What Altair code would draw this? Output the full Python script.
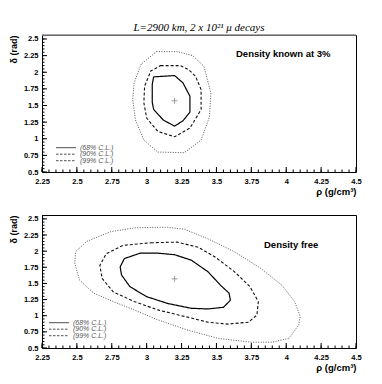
import altair as alt
import pandas as pd

# ---------------- data ----------------
LEVELS = ["68%", "90%", "99%"]
LEGEND_LABELS = ["(68% C.L.)", "(90% C.L.)", "(99% C.L.)"]
PANEL_LABELS = ["Density known at 3%", "Density free"]
MAIN_TITLE = "L=2900 km, 2 x 10\u00b2\u00b9 \u03bc decays"
X_TITLE = "\u03c1 (g/cm\u00b3)"
Y_TITLE = "\u03b4 (rad)"

BEST_RHO = [3.2]
BEST_DELTA = [1.5708]

X_MAJOR = [2.25, 2.5, 2.75, 3.0, 3.25, 3.5, 3.75, 4.0, 4.25, 4.5]
Y_MAJOR = [0.5, 0.75, 1.0, 1.25, 1.5, 1.75, 2.0, 2.25, 2.5]

# Density known at 3%
rho68_k = [3.05, 3.20, 3.26, 3.31, 3.31, 3.26, 3.20, 3.12, 3.05, 3.04, 3.04, 3.05]
dl68_k = [1.93, 1.95, 1.84, 1.64, 1.40, 1.27, 1.19, 1.28, 1.44, 1.55, 1.82, 1.93]
rho90_k = [3.10, 3.24, 3.30, 3.35, 3.39, 3.39, 3.31, 3.20, 3.08, 3.00, 2.98, 2.985, 3.03, 3.10]
dl90_k = [2.10, 2.10, 2.04, 1.94, 1.74, 1.44, 1.16, 1.03, 1.11, 1.31, 1.54, 1.79, 2.02, 2.10]
rho99_k = [3.07, 3.22, 3.33, 3.41, 3.46, 3.45, 3.39, 3.27, 3.08, 2.98, 2.92, 2.90, 2.91, 2.96, 3.07]
dl99_k = [2.31, 2.31, 2.25, 2.09, 1.69, 1.33, 0.98, 0.79, 0.80, 0.98, 1.28, 1.59, 1.84, 2.12, 2.31]

# Density free
rho68_f = [2.84, 2.955, 3.075, 3.20, 3.32, 3.44, 3.53, 3.59, 3.60, 3.55, 3.44, 3.32, 3.15, 3.00, 2.88, 2.82, 2.81, 2.84]
dl68_f = [1.885, 1.97, 1.97, 1.945, 1.86, 1.68, 1.47, 1.35, 1.24, 1.13, 1.105, 1.115, 1.19, 1.295, 1.45, 1.63, 1.755, 1.885]
rho90_f = [3.03, 3.22, 3.37, 3.49, 3.63, 3.74, 3.80, 3.79, 3.73, 3.58, 3.44, 3.27, 3.08, 2.91, 2.76, 2.68, 2.665, 2.71, 2.83, 3.03]
dl90_f = [2.13, 2.14, 2.06, 1.91, 1.68, 1.45, 1.22, 1.01, 0.90, 0.87, 0.90, 0.99, 1.09, 1.22, 1.37, 1.58, 1.78, 1.96, 2.09, 2.13]
rho99_f = [3.075, 3.15, 3.27, 3.44, 3.63, 3.82, 3.97, 4.06, 4.10, 4.09, 4.02, 3.90, 3.75, 3.51, 3.29, 3.075, 2.91, 2.76, 2.62, 2.52, 2.485, 2.49, 2.57, 2.74, 2.91, 3.075]
dl99_f = [2.37, 2.37, 2.34, 2.19, 1.99, 1.73, 1.47, 1.22, 0.99, 0.86, 0.65, 0.59, 0.59, 0.65, 0.78, 0.94, 1.09, 1.22, 1.35, 1.55, 1.81, 1.99, 2.15, 2.30, 2.36, 2.37]

# ---------------- styles ----------------
W = 314
H_TOP = 137
H_BOT = 133
FONT = "Liberation Sans"
DASHES = [[1, 0], [3, 2], [1, 1.5]]
COLORS = ["#000000", "#111111", "#555555"]
WIDTHS = [1.2, 1.0, 1.0]

x_minor = [round(2.25 + 0.05 * i, 2) for i in range(46)]
y_minor = [round(0.5 + 0.05 * i, 2) for i in range(42)]

xs = alt.Scale(domain=[2.25, 4.5], nice=False, zero=False)
ys = alt.Scale(domain=[0.5, 2.56], nice=False, zero=False)

xaxis = alt.Axis(values=X_MAJOR, format=".2~f", ticks=False, tickSize=0, domain=False, grid=False,
                 labelFont=FONT, labelFontSize=7.5, labelFontWeight="bold", labelColor="black",
                 labelPadding=5, labelFlush=False, labelOverlap=False,
                 title=X_TITLE, titleAnchor="end", titleFont=FONT, titleFontSize=9.5,
                 titleFontWeight="bold", titleColor="black", titlePadding=2)
yaxis = alt.Axis(values=Y_MAJOR, format=".2~f", ticks=False, tickSize=0, domain=False, grid=False,
                 labelFont=FONT, labelFontSize=7.5, labelFontWeight="bold", labelColor="black",
                 labelPadding=4, labelFlush=False, labelOverlap=False,
                 title=Y_TITLE, titleAnchor="end", titleFont=FONT, titleFontSize=9,
                 titleFontWeight="bold", titleColor="black", titlePadding=5)


def contour_df(pairs):
    rows = []
    for lev, (rs, ds) in zip(LEVELS, pairs):
        for i, (r, d) in enumerate(zip(rs, ds)):
            rows.append({"level": lev, "i": i, "rho": r, "delta": d})
    return pd.DataFrame(rows)


def panel(pairs, label, H, label_xy, legend_x, legend_y, title=None, gray_top=False):
    df = contour_df(pairs)
    layers = []
    # contours
    layers.append(
        alt.Chart(df).mark_line(clip=True).encode(
            x=alt.X("rho:Q", scale=xs, axis=xaxis),
            y=alt.Y("delta:Q", scale=ys, axis=yaxis),
            detail="level:N",
            order="i:Q",
            color=alt.Color("level:N", scale=alt.Scale(domain=LEVELS, range=COLORS), legend=None),
            strokeDash=alt.StrokeDash("level:N", scale=alt.Scale(domain=LEVELS, range=DASHES), legend=None),
            strokeWidth=alt.StrokeWidth("level:N", scale=alt.Scale(domain=LEVELS, range=WIDTHS), legend=None),
        )
    )
    # best fit cross
    layers.append(
        alt.Chart(pd.DataFrame({"rho": BEST_RHO, "delta": BEST_DELTA})).mark_point(
            shape="M-1,0L1,0M0,-1L0,1", size=36, filled=False, stroke="#555555", strokeWidth=0.8
        ).encode(x=alt.X("rho:Q", scale=xs, axis=xaxis), y=alt.Y("delta:Q", scale=ys, axis=yaxis))
    )
    # inside ticks, x axis
    for vals, ln in [(X_MAJOR, 5), (x_minor, 2.5)]:
        layers.append(
            alt.Chart(pd.DataFrame({"rho": vals})).mark_rule(color="black", strokeWidth=1).encode(
                x=alt.X("rho:Q", scale=xs, axis=xaxis), y=alt.value(H), y2=alt.value(H - ln))
        )
    for vals, ln in [(Y_MAJOR, 5), (y_minor, 2.5)]:
        layers.append(
            alt.Chart(pd.DataFrame({"delta": vals})).mark_rule(color="black", strokeWidth=1).encode(
                y=alt.Y("delta:Q", scale=ys, axis=yaxis), x=alt.value(0), x2=alt.value(ln))
        )
    # panel label
    layers.append(
        alt.Chart(pd.DataFrame({"t": [label]})).mark_text(
            align="left", baseline="middle", font=FONT, fontSize=9.5, fontWeight="bold", color="black"
        ).encode(text="t:N", x=alt.value(label_xy[0]), y=alt.value(label_xy[1]))
    )
    # legend
    for k, (lev, lab) in enumerate(zip(LEVELS, LEGEND_LABELS)):
        yy = legend_y + 6.5 * k
        layers.append(
            alt.Chart(pd.DataFrame({"t": [lab]})).mark_rule(
                color="#222222", strokeWidth=0.8, strokeDash=DASHES[k] if k == 0 else [2.5, 1.5]
            ).encode(x=alt.value(legend_x), x2=alt.value(legend_x + 20), y=alt.value(yy))
        )
        layers.append(
            alt.Chart(pd.DataFrame({"t": [lab]})).mark_text(
                align="left", baseline="middle", font=FONT, fontSize=7, fontStyle="italic", color="#555555"
            ).encode(text="t:N", x=alt.value(legend_x + 24), y=alt.value(yy))
        )
    if gray_top:
        layers.append(
            alt.Chart(pd.DataFrame({"t": [0]})).mark_rule(color="#8a8a8a", strokeWidth=1.6).encode(
                x=alt.value(0), x2=alt.value(W), y=alt.value(0))
        )
    props = dict(width=W, height=H)
    if title is not None:
        props["title"] = title
    return alt.layer(*layers).properties(**props)


main_title = alt.TitleParams(
    text=MAIN_TITLE, font="Liberation Serif", fontStyle="italic", fontWeight="normal",
    fontSize=11, color="black", anchor="middle", frame="group", offset=1
)

top = panel([(rho68_k, dl68_k), (rho90_k, dl90_k), (rho99_k, dl99_k)], PANEL_LABELS[0], H_TOP,
            (194, 18.5), 14, 112.7, title=main_title, gray_top=True)
bot = panel([(rho68_f, dl68_f), (rho90_f, dl90_f), (rho99_f, dl99_f)], PANEL_LABELS[1], H_BOT,
            (222, 29.5), 7, 107.7)

chart = alt.vconcat(top, bot, spacing=17).properties(
    padding={"left": 0, "top": 13, "right": 0, "bottom": 0}
).configure_view(stroke="black", strokeWidth=1)

chart.save("out.html", embed_options={"renderer": "svg", "actions": False})
